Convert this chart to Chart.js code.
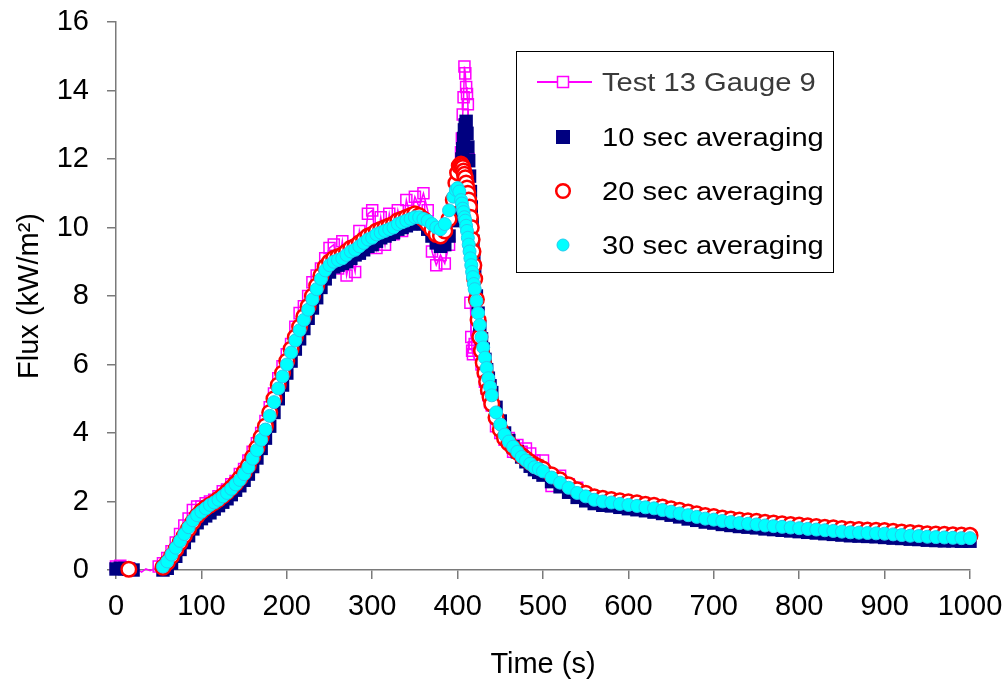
<!DOCTYPE html>
<html>
<head>
<meta charset="utf-8">
<title>Test 13 Gauge 9 - flux</title>
<script src="https://cdn.jsdelivr.net/npm/chart.js@4.4.0/dist/chart.umd.min.js"></script>
<style>
  html, body { margin: 0; padding: 0; background: #fff; }
  #wrap { width: 1007px; height: 683px; position: relative; }
</style>
</head>
<body>
<div id="wrap"><canvas id="fluxChart"></canvas></div>
<script>
// ---- data (time in s, flux in kW/m2) ----
const timeS = [
  0, 5, 10, 15, 20, 25, 30, 35, 40, 45,
  50, 55, 60, 65, 70, 75, 80, 85, 90, 95,
  100, 105, 110, 115, 120, 125, 130, 135, 140, 145,
  150, 155, 160, 165, 170, 175, 180, 185, 190, 195,
  200, 205, 210, 215, 220, 225, 230, 235, 240, 245,
  250, 255, 260, 265, 270, 275, 280, 285, 290, 295,
  300, 305, 310, 315, 320, 325, 330, 335, 340, 345,
  350, 355, 360, 365, 370, 375, 380, 385, 390, 395,
  398, 400, 402, 404, 405, 406, 407, 408, 409, 410,
  411, 412, 413, 414, 415, 416, 417, 418, 419, 420,
  422, 424, 426, 428, 430, 432, 434, 436, 438, 440,
  445, 450, 455, 460, 465, 470, 475, 480, 485, 490,
  495, 500, 510, 520, 530, 540, 550, 560, 570, 580,
  590, 600, 610, 620, 630, 640, 650, 660, 670, 680,
  690, 700, 710, 720, 730, 740, 750, 760, 770, 780,
  790, 800, 810, 820, 830, 840, 850, 860, 870, 880,
  890, 900, 910, 920, 930, 940, 950, 960, 970, 980,
  990, 1000
];

const fluxRaw = [
  0.1, 0.12, 0.08, 0.05, -0.08, 0.02, -0.06, 0.03, -0.02, 0.04,
  0.1, 0.2, 0.35, 0.55, 0.8, 1.05, 1.3, 1.5, 1.75, 1.85,
  1.85, 1.95, 2.0, 2.05, 2.15, 2.3, 2.35, 2.5, 2.6, 2.8,
  2.95, 3.2, 3.45, 3.7, 4.0, 4.35, 4.75, 5.15, 5.6, 5.95,
  6.3, 6.6, 7.1, 7.5, 7.7, 8.0, 8.4, 8.6, 8.8, 9.1,
  9.4, 9.5, 8.8, 9.6, 8.6, 9.2, 8.7, 9.9, 9.4, 10.4,
  10.5, 9.4, 10.3, 9.5, 10.4, 9.8, 10.5, 9.9, 10.8, 10.3,
  10.9, 10.6, 11.0, 10.5, 9.3, 8.9, 9.2, 8.95, 9.5, 10.2,
  10.6, 11.0, 11.5, 12.2, 12.6, 13.3, 13.8, 14.7, 14.5, 14.1,
  13.9, 13.6, 12.0, 9.5, 7.8, 6.8, 6.4, 6.3, 6.5, 6.6,
  7.0, 6.8, 6.3, 6.0, 5.8, 5.5, 5.3, 5.1, 4.9, 4.8,
  4.2, 4.0, 3.8, 3.85, 3.45, 3.65, 3.45, 3.55, 3.4, 3.2,
  2.9, 3.2, 2.45, 2.75, 2.5, 2.4, 2.2, 2.1, 2.05, 2.0,
  2.0, 1.9, 1.95, 1.85, 1.8, 1.8, 1.72, 1.66, 1.62, 1.55,
  1.52, 1.46, 1.45, 1.4, 1.38, 1.35, 1.34, 1.3, 1.28, 1.25,
  1.25, 1.21, 1.2, 1.17, 1.16, 1.13, 1.12, 1.1, 1.08, 1.08,
  1.06, 1.05, 1.03, 1.02, 1.0, 0.99, 0.97, 0.96, 0.95, 0.95,
  0.94, 0.94
];

const fluxAvg10 = [
  0.03, 0.05, 0.04, 0.02, 0.0, null, null, null, null, null,
  null, 0.0, 0.05, 0.2, 0.4, 0.6, 0.8, 1.0, 1.2, 1.38,
  1.5, 1.58, 1.67, 1.78, 1.88, 1.98, 2.08, 2.2, 2.33, 2.46,
  2.62, 2.8, 3.02, 3.27, 3.55, 3.85, 4.2, 4.6, 5.0, 5.4,
  5.75, 6.1, 6.45, 6.75, 7.05, 7.35, 7.65, 7.95, 8.25, 8.5,
  8.7, 8.85, 8.9, 8.95, 9.0, 9.1, 9.2, 9.25, 9.35, 9.45,
  9.5, 9.6, 9.7, 9.75, 9.8, 9.85, 9.95, 10.0, 10.05, 10.1,
  10.15, 10.15, 10.1, 9.95, 9.75, 9.55, 9.45, 9.5, 9.75, 10.2,
  10.5, 10.8, 11.2, 11.7, 12.0, 12.3, 12.6, 12.85, 13.0, 13.1,
  12.75, 12.35, 11.95, 11.5, 11.05, 10.6, 10.1, 9.6, 9.1, 8.65,
  8.0, 7.5, 7.1, 6.75, 6.45, 6.15, 5.85, 5.6, 5.38, 5.18,
  4.75, 4.35, 4.0, 3.78, 3.6, 3.45, 3.3, 3.16, 3.03, 2.93,
  2.85, 2.77, 2.58, 2.43, 2.27, 2.12, 2.02, 1.94, 1.89, 1.87,
  1.83, 1.79, 1.76, 1.73, 1.69, 1.65, 1.6, 1.55, 1.49, 1.45,
  1.4, 1.37, 1.33, 1.3, 1.27, 1.25, 1.23, 1.2, 1.18, 1.16,
  1.14, 1.12, 1.1, 1.08, 1.06, 1.04, 1.02, 1.0, 0.99, 0.98,
  0.97, 0.95, 0.93, 0.92, 0.9, 0.89, 0.87, 0.86, 0.85, 0.85,
  0.84, 0.84
];

const fluxAvg20 = [
  null, null, null, 0.02, null, null, null, null, null, null,
  null, 0.08, 0.22, 0.4, 0.6, 0.8, 1.0, 1.2, 1.4, 1.58,
  1.72, 1.82, 1.9, 1.98, 2.07, 2.17, 2.28, 2.4, 2.53, 2.68,
  2.85, 3.05, 3.3, 3.57, 3.88, 4.2, 4.6, 5.0, 5.4, 5.75,
  6.1, 6.45, 6.8, 7.1, 7.4, 7.7, 8.0, 8.3, 8.6, 8.85,
  9.0, 9.1, 9.15, 9.2, 9.3, 9.4, 9.45, 9.55, 9.65, 9.75,
  9.8, 9.9, 9.95, 10.0, 10.05, 10.1, 10.2, 10.25, 10.3, 10.35,
  10.4, 10.35, 10.25, 10.1, 9.95, 9.8, 9.75, 9.9, 10.25, 10.8,
  11.3, 11.6, 11.8, 11.85, 11.8, 11.75, 11.65, 11.55, 11.45, 11.3,
  11.15, 11.0, 10.8, 10.6, 10.3, 10.0, 9.65, 9.3, 8.9, 8.5,
  7.9, 7.3, 6.8, 6.4, 6.05, 5.75, 5.5, 5.25, 5.05, 4.85,
  4.45, 4.1, 3.85, 3.7, 3.57, 3.45, 3.34, 3.25, 3.15, 3.07,
  3.01, 2.95, 2.78, 2.63, 2.49, 2.34, 2.24, 2.14, 2.09, 2.06,
  2.02, 1.99, 1.96, 1.92, 1.89, 1.84, 1.79, 1.74, 1.69, 1.64,
  1.59, 1.56, 1.52, 1.49, 1.46, 1.44, 1.42, 1.39, 1.37, 1.35,
  1.33, 1.31, 1.29, 1.27, 1.25, 1.23, 1.21, 1.19, 1.18, 1.17,
  1.16, 1.15, 1.13, 1.11, 1.09, 1.08, 1.06, 1.05, 1.04, 1.03,
  1.02, 1.01
];

const fluxAvg30 = [
  null, null, null, null, null, null, null, null, null, null,
  null, 0.1, 0.25, 0.45, 0.65, 0.85, 1.05, 1.25, 1.45, 1.6,
  1.7, 1.8, 1.9, 1.97, 2.05, 2.15, 2.25, 2.37, 2.5, 2.63,
  2.8, 3.0, 3.25, 3.5, 3.8, 4.1, 4.5, 4.9, 5.3, 5.65,
  6.0, 6.35, 6.7, 7.0, 7.3, 7.6, 7.9, 8.2, 8.5, 8.75,
  8.9, 9.0, 9.05, 9.1, 9.2, 9.3, 9.35, 9.45, 9.55, 9.65,
  9.7, 9.8, 9.85, 9.9, 9.95, 10.0, 10.1, 10.15, 10.2, 10.25,
  10.3, 10.3, 10.25, 10.2, 10.1, 10.0, 9.95, 10.1, 10.5, 10.9,
  11.1, 11.15, 11.05, 10.8, 10.7, 10.55, 10.45, 10.3, 10.2, 10.05,
  9.9, 9.7, 9.5, 9.3, 9.1, 8.9, 8.7, 8.55, 8.35, 8.2,
  7.85, 7.5, 7.15, 6.8, 6.5, 6.2, 5.9, 5.6, 5.35, 5.1,
  4.6, 4.25, 3.95, 3.75, 3.6, 3.45, 3.3, 3.2, 3.1, 3.0,
  2.95, 2.88, 2.7, 2.55, 2.4, 2.25, 2.15, 2.05, 2.0, 1.97,
  1.93, 1.9, 1.87, 1.83, 1.8, 1.75, 1.7, 1.65, 1.6, 1.55,
  1.5, 1.47, 1.43, 1.4, 1.37, 1.35, 1.33, 1.3, 1.28, 1.26,
  1.24, 1.22, 1.2, 1.18, 1.16, 1.14, 1.12, 1.1, 1.09, 1.08,
  1.07, 1.06, 1.04, 1.02, 1.0, 0.99, 0.97, 0.96, 0.95, 0.94,
  0.93, 0.93
];

const seriesLabels = ['Test 13 Gauge 9', '10 sec averaging', '20 sec averaging', '30 sec averaging'];
const xTicks = [0, 100, 200, 300, 400, 500, 600, 700, 800, 900, 1000];
const yTicks = [0, 2, 4, 6, 8, 10, 12, 14, 16];

const FONT = '"Liberation Sans", Arial, Helvetica, sans-serif';

function toPoints(values) {
  const pts = [];
  values.forEach((v, i) => {
    if (v !== null) pts.push({ x: timeS[i], y: v });
  });
  return pts;
}

// ---- legend box drawn inside the plot (Excel style) ----
const legendBoxPlugin = {
  id: 'legendBox',
  afterDraw(chart) {
    const { ctx } = chart;
    const box = { x: 516, y: 51, w: 318, h: 222 };
    const symX = 563;
    const textX = 602;
    const baselines = [91, 146, 200, 254];

    ctx.save();
    ctx.fillStyle = '#fff';
    ctx.fillRect(box.x, box.y, box.w, box.h);
    ctx.strokeStyle = '#000';
    ctx.lineWidth = 1;
    ctx.strokeRect(box.x + 0.5, box.y + 0.5, box.w - 1, box.h - 1);

    seriesLabels.forEach((label, i) => {
      const by = baselines[i];
      const sy = by - 9;
      if (i === 0) {
        ctx.strokeStyle = '#ff00ff';
        ctx.lineWidth = 2;
        ctx.beginPath();
        ctx.moveTo(537, sy);
        ctx.lineTo(592, sy);
        ctx.stroke();
        ctx.fillStyle = '#fff';
        ctx.lineWidth = 1.5;
        ctx.fillRect(symX - 5.5, sy - 5.5, 11, 11);
        ctx.strokeRect(symX - 5.5, sy - 5.5, 11, 11);
      } else if (i === 1) {
        ctx.fillStyle = '#000080';
        ctx.fillRect(symX - 7, sy - 7, 14, 14);
      } else if (i === 2) {
        ctx.strokeStyle = '#ff0000';
        ctx.fillStyle = '#fff';
        ctx.lineWidth = 2.5;
        ctx.beginPath();
        ctx.arc(symX, sy, 6.8, 0, Math.PI * 2);
        ctx.fill();
        ctx.stroke();
      } else {
        ctx.fillStyle = '#00ffff';
        ctx.strokeStyle = '#22ccee';
        ctx.lineWidth = 1;
        ctx.beginPath();
        ctx.arc(symX, sy, 6, 0, Math.PI * 2);
        ctx.fill();
        ctx.stroke();
      }

      ctx.save();
      ctx.translate(textX, by);
      ctx.scale(1.12, 1);
      ctx.font = '26px ' + FONT;
      ctx.fillStyle = i === 0 ? '#3a3a3a' : '#000';
      ctx.textAlign = 'left';
      ctx.textBaseline = 'alphabetic';
      ctx.fillText(label, 0, 0);
      ctx.restore();
    });
    ctx.restore();
  }
};

const axisColor = '#7a7a7a';

const ctx = document.getElementById('fluxChart').getContext('2d');
new Chart(ctx, {
  type: 'scatter',
  data: {
    datasets: [
      {
        label: seriesLabels[0],
        data: toPoints(fluxRaw),
        showLine: true,
        borderColor: '#ff00ff',
        borderWidth: 1.5,
        pointStyle: 'rect',
        pointRadius: c => (c.raw && c.raw.x > 17 && c.raw.x < 48) ? 0 : 7.8,
        pointBorderColor: '#ff00ff',
        pointBackgroundColor: 'rgba(0,0,0,0)',
        pointBorderWidth: 1.5,
        clip: false,
        order: 4
      },
      {
        label: seriesLabels[1],
        data: toPoints(fluxAvg10),
        pointStyle: 'rect',
        pointRadius: 9.5,
        pointBackgroundColor: '#000080',
        pointBorderWidth: 0,
        clip: false,
        order: 3
      },
      {
        label: seriesLabels[2],
        data: toPoints(fluxAvg20),
        pointStyle: 'circle',
        pointRadius: 7.3,
        pointBackgroundColor: '#ffffff',
        pointBorderColor: '#ff0000',
        pointBorderWidth: 2.5,
        clip: false,
        order: 2
      },
      {
        label: seriesLabels[3],
        data: toPoints(fluxAvg30),
        pointStyle: 'circle',
        pointRadius: 6.5,
        pointBackgroundColor: '#00ffff',
        pointBorderColor: '#22ccee',
        pointBorderWidth: 1,
        clip: false,
        order: 1
      }
    ]
  },
  options: {
    responsive: true,
    maintainAspectRatio: false,
    animation: false,
    layout: { padding: { top: 22, right: 37, left: 0, bottom: 0 } },
    scales: {
      x: {
        type: 'linear',
        min: 0,
        max: 1000,
        afterBuildTicks: s => { s.ticks = xTicks.map(v => ({ value: v })); },
        afterFit: s => {
          s.height = 113;
          s.paddingLeft = 0;
          s.paddingRight = 0;
        },
        ticks: {
          color: '#000',
          padding: 11,
          maxRotation: 0,
          font: { family: FONT, size: 29 },
          callback: v => String(v)
        },
        grid: { drawOnChartArea: false, drawTicks: true, tickLength: 9, color: axisColor, lineWidth: 1.5 },
        border: { color: axisColor, width: 1.5 },
        title: {
          display: true,
          text: 'Time (s)',
          color: '#000',
          font: { family: FONT, size: 29 },
          padding: { top: 0, bottom: 1 }
        }
      },
      y: {
        type: 'linear',
        min: 0,
        max: 16,
        afterBuildTicks: s => { s.ticks = yTicks.map(v => ({ value: v })); },
        afterFit: s => {
          s.width = 116;
          s.paddingTop = 0;
          s.paddingBottom = 0;
        },
        ticks: {
          color: '#000',
          padding: 18,
          font: { family: FONT, size: 29 },
          callback: v => String(v)
        },
        grid: { drawOnChartArea: false, drawTicks: true, tickLength: 9, color: axisColor, lineWidth: 1.5 },
        border: { color: axisColor, width: 1.5 },
        title: {
          display: true,
          text: 'Flux (kW/m²)',
          color: '#000',
          font: { family: FONT, size: 29 },
          padding: { top: 13, bottom: 0 }
        }
      }
    },
    plugins: {
      legend: { display: false },
      tooltip: { enabled: true }
    }
  },
  plugins: [legendBoxPlugin]
});
</script>
</body>
</html>
